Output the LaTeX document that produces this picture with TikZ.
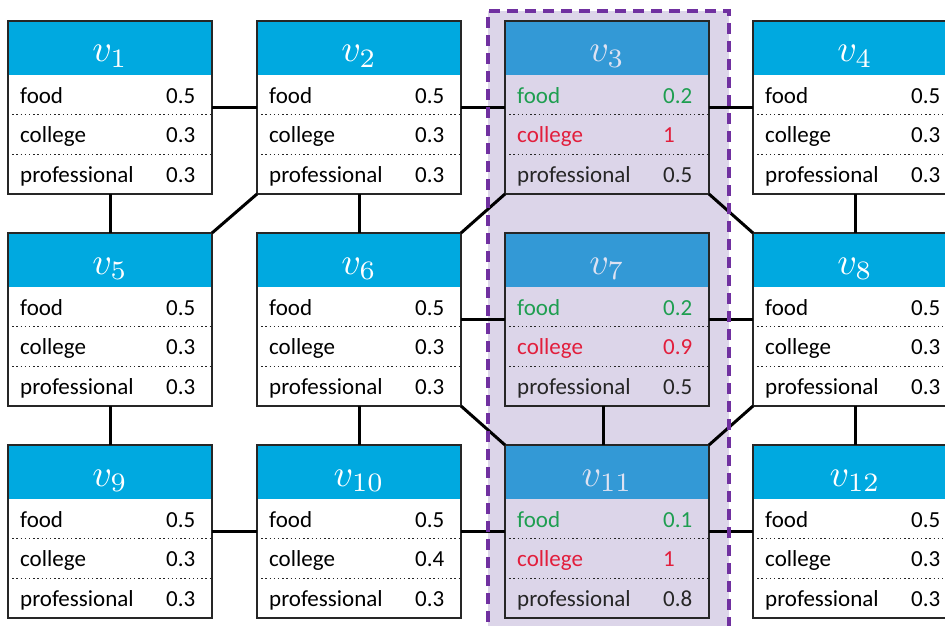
\documentclass[tikz,border=0pt]{standalone}
\usepackage{fontspec}
\setmainfont{Carlito}
\definecolor{hdrblue}{RGB}{0,169,224}
\definecolor{hlblue}{RGB}{51,153,214}
\definecolor{ovl}{RGB}{220,213,233}
\definecolor{purp}{RGB}{112,48,160}
\definecolor{grn}{RGB}{30,158,80}
\definecolor{rd}{RGB}{226,30,60}
\definecolor{bord}{RGB}{38,38,38}
\definecolor{hltxt}{RGB}{222,226,242}
\tikzset{
 box/.style={rectangle, minimum width=204pt, minimum height=173pt, inner sep=0pt, outer sep=0pt, anchor=north west},
 boxline/.style={draw=bord, line width=1.8pt},
 dotline/.style={line width=1.4pt, dash pattern=on 1.4pt off 2.8pt, black!85},
 lbl/.style={anchor=base west, inner sep=0pt, font=\fontsize{23}{26}\selectfont},
 hdrtxt/.style={anchor=base, inner sep=0pt},
 edge/.style={line width=3pt, black},
 plain body/.style={fill=white},
 hl body/.style={},
 plain hdr/.style={fill=hdrblue},
 hl hdr/.style={fill=hlblue},
 plain ht/.style={text=white},
 hl ht/.style={text=hltxt},
 plain food/.style={text=black},
 hl food/.style={text=grn},
 plain coll/.style={text=black},
 hl coll/.style={text=rd},
 plain prof/.style={text=black},
 hl prof/.style={text=black!85},
 dashbox/.style={draw=purp, line width=3.2pt, dash pattern=on 11pt off 7pt},
}
\newcommand\gridnode[7]{%
 \node[box, #4 body] (v#1) at (#2,#3) {};
 \fill[#4 hdr] (v#1.north west) rectangle ([yshift=-54pt]v#1.north east);
 \draw[dotline] ([yshift=-93.67pt]v#1.north west) -- ([yshift=-93.67pt]v#1.north east);
 \draw[dotline] ([yshift=-133.33pt]v#1.north west) -- ([yshift=-133.33pt]v#1.north east);
 \draw[boxline] (v#1.north west) rectangle (v#1.south east);
 \node[hdrtxt, #4 ht] (v#1h) at ([yshift=-41pt]v#1.north) {\scalebox{3.8}{$v_{#1}$}};
 \node[lbl, #4 food] (v#1fa) at ([xshift=12pt,yshift=-82pt]v#1.north west) {food};
 \node[lbl, #4 food] (v#1fb) at ([xshift=158pt,yshift=-82pt]v#1.north west) {#5};
 \node[lbl, #4 coll] (v#1ca) at ([xshift=12pt,yshift=-121.7pt]v#1.north west) {college};
 \node[lbl, #4 coll] (v#1cb) at ([xshift=158pt,yshift=-121.7pt]v#1.north west) {#6};
 \node[lbl, #4 prof] (v#1pa) at ([xshift=12pt,yshift=-161pt]v#1.north west) {professional};
 \node[lbl, #4 prof] (v#1pb) at ([xshift=158pt,yshift=-161pt]v#1.north west) {#7};
}
\begin{document}
\begin{tikzpicture}[x=1pt,y=-1pt]
\useasboundingbox (0,0) rectangle (945,626);
\clip (0,0) rectangle (945,626);
\fill[ovl] (488,11) rectangle (729,640);
\gridnode{1}{8}{21}{plain}{0.5}{0.3}{0.3}
\gridnode{2}{257}{21}{plain}{0.5}{0.3}{0.3}
\gridnode{3}{505}{21}{hl}{0.2}{1}{0.5}
\gridnode{4}{753}{21}{plain}{0.5}{0.3}{0.3}
\gridnode{5}{8}{233}{plain}{0.5}{0.3}{0.3}
\gridnode{6}{257}{233}{plain}{0.5}{0.3}{0.3}
\gridnode{7}{505}{233}{hl}{0.2}{0.9}{0.5}
\gridnode{8}{753}{233}{plain}{0.5}{0.3}{0.3}
\gridnode{9}{8}{445}{plain}{0.5}{0.3}{0.3}
\gridnode{10}{257}{445}{plain}{0.5}{0.4}{0.3}
\gridnode{11}{505}{445}{hl}{0.1}{1}{0.8}
\gridnode{12}{753}{445}{plain}{0.5}{0.3}{0.3}
% horizontal connectors
\foreach \a/\b in {1/2,2/3,3/4,6/7,7/8,9/10,10/11,11/12}
  \draw[edge] ([yshift=-86pt]v\a.north east) -- ([yshift=-86pt]v\b.north west);
% vertical connectors
\foreach \a/\b in {1/5,5/9,2/6,6/10,4/8,8/12}
  \draw[edge] (v\a.south) -- (v\b.north);
\draw[edge] ([xshift=-4pt]v7.south) -- ([xshift=-4pt]v11.north);
% diagonal connectors
\draw[edge] (v2.south west) -- (v5.north east);
\draw[edge] (v3.south west) -- (v6.north east);
\draw[edge] (v3.south east) -- (v8.north west);
\draw[edge] (v6.south east) -- (v11.north west);
\draw[edge] (v8.south west) -- (v11.north east);
% highlight frame
\draw[dashbox] (488,640) -- (488,11) -- (729,11) -- (729,640);
\end{tikzpicture}
\end{document}
